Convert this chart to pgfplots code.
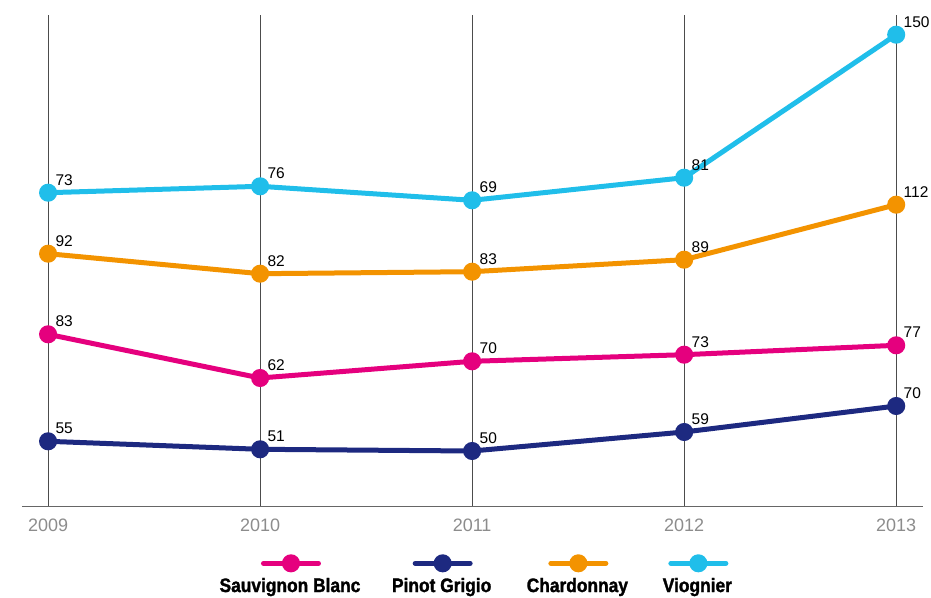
\documentclass[border=0pt]{standalone}
\usepackage{fontspec}
\setmainfont{Liberation Sans}
\newfontfamily\legfont{Liberation Sans Bold}[FakeStretch=0.89, FakeBold=1.5]
\usepackage{pgfplots}
\pgfplotsset{compat=1.18}
\usepackage{pgfplotstable}
\definecolor{sb}{RGB}{229,0,126}
\definecolor{pg}{RGB}{29,41,128}
\definecolor{ch}{RGB}{243,147,0}
\definecolor{vi}{RGB}{32,190,234}
\definecolor{yl}{RGB}{140,140,140}
% pos = drawn height of the point above the baseline, value = printed figure
\pgfplotstableread{
year pos value
2009 172.4 83
2010 128.7 62
2011 145.4 70
2012 152.0 73
2013 161.4 77
}\sauv
\pgfplotstableread{
year pos value
2009 65.4 55
2010 57.4 51
2011 55.7 50
2012 74.7 59
2013 100.7 70
}\pinot
\pgfplotstableread{
year pos value
2009 253.0 92
2010 233.0 82
2011 235.0 83
2012 247.0 89
2013 302.0 112
}\chard
\pgfplotstableread{
year pos value
2009 314.0 73
2010 320.4 76
2011 306.4 69
2012 329.0 81
2013 472.0 150
}\viog
\begin{document}
\begin{tikzpicture}
\path[use as bounding box] (-22pt,-90.3pt) rectangle (909pt,506.7pt);
\begin{axis}[
  at={(0pt,0pt)}, anchor=south west,
  scale only axis, width=900.7pt, height=491.7pt,
  xmin=2008.877, xmax=2013.125, ymin=0, ymax=491.7,
  axis x line*=bottom, axis y line=none,
  x axis line style={draw=black!60, line width=0.8pt},
  xtick={2009,2010,2011,2012,2013},
  xticklabels={2009,2010,2011,2012,2013},
  ytick=\empty,
  major tick length=0pt,
  xticklabel style={font=\fontsize{18}{20}\selectfont, text=yl, inner sep=0pt, anchor=north, yshift=-12pt},
  xmajorgrids, grid style={black!70, line width=0.8pt},
  clip=false,
  nodes near coords, point meta=explicit symbolic,
  nodes near coords style={font=\fontsize{15.5}{17}\selectfont, text=black, anchor=south west, inner sep=0pt, xshift=5pt, yshift=5pt},
  every axis plot/.append style={line width=5pt, mark=*, mark size=6.5pt},
  legend columns=4, legend cell align=left,
  legend style={at={(axis description cs:0.1972,-0.1607)}, anchor=west, draw=none, fill=none,
    inner sep=0pt, outer sep=0pt, column sep=0pt, row sep=0pt,
    nodes={inner sep=0pt, outer sep=0pt},
    font=\legfont\fontsize{19.5}{22}\selectfont},
]
\addplot[color=sb, mark options={fill=sb, draw=none},
  legend image code/.code={\path (0pt,0pt);
    \draw[overlay, sb, line width=5pt, line cap=round] (61.35pt,22.4pt) -- (116.35pt,22.4pt);
    \fill[overlay, sb] (88.85pt,22.4pt) circle (6.5pt);}]
  table[x=year, y=pos, meta=value] {\sauv};
\addlegendentry{\makebox[170.7pt][c]{Sauvignon Blanc}}
\addplot[color=pg, mark options={fill=pg, draw=none},
  legend image code/.code={\path (0pt,0pt);
    \draw[overlay, pg, line width=5pt, line cap=round] (37.35pt,22.4pt) -- (92.35pt,22.4pt);
    \fill[overlay, pg] (64.85pt,22.4pt) circle (6.5pt);}]
  table[x=year, y=pos, meta=value] {\pinot};
\addlegendentry{\makebox[122.7pt][c]{Pinot Grigio}}
\addplot[color=ch, mark options={fill=ch, draw=none},
  legend image code/.code={\path (0pt,0pt);
    \draw[overlay, ch, line width=5pt, line cap=round] (45.35pt,22.4pt) -- (100.35pt,22.4pt);
    \fill[overlay, ch] (72.85pt,22.4pt) circle (6.5pt);}]
  table[x=year, y=pos, meta=value] {\chard};
\addlegendentry{\makebox[138.7pt][c]{Chardonnay}}
\addplot[color=vi, mark options={fill=vi, draw=none},
  legend image code/.code={\path (0pt,0pt);
    \draw[overlay, vi, line width=5pt, line cap=round] (21.65pt,22.4pt) -- (76.65pt,22.4pt);
    \fill[overlay, vi] (49.15pt,22.4pt) circle (6.5pt);}]
  table[x=year, y=pos, meta=value] {\viog};
\addlegendentry{\makebox[91.3pt][c]{Viognier}}
\end{axis}
\end{tikzpicture}
\end{document}
